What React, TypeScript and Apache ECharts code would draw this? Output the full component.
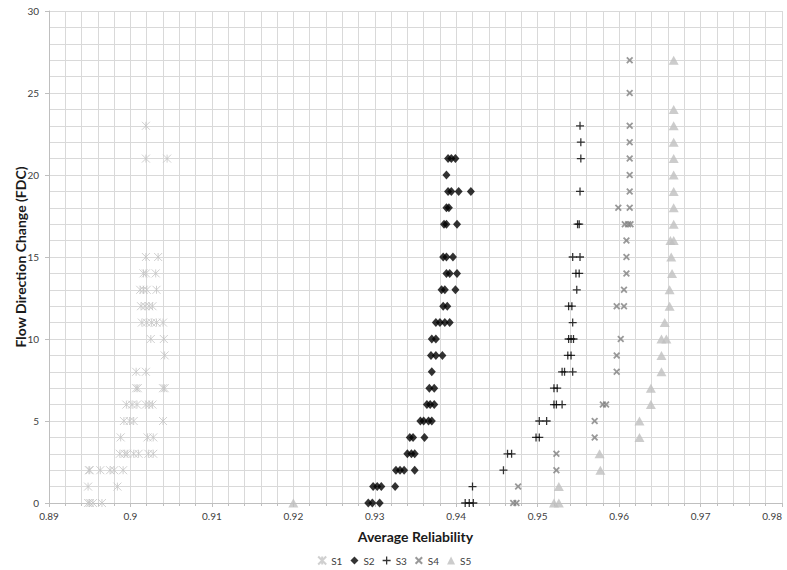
import React, { useEffect, useRef } from "react";
import * as echarts from "echarts";

type Row = [number, number[]]; // [FDC, reliabilities]

const seriesNames = ["S1", "S2", "S3", "S4", "S5"];

const s1: Row[] = [
  [23, [0.9019]],
  [21, [0.9019, 0.9045]],
  [15, [0.9019, 0.9034]],
  [14, [0.9016, 0.9019, 0.9031]],
  [13, [0.9012, 0.9016, 0.902, 0.9032]],
  [12, [0.9013, 0.9018, 0.9023, 0.9027]],
  [11, [0.9014, 0.902, 0.9026, 0.9032, 0.904]],
  [10, [0.9025, 0.9041]],
  [9, [0.9042]],
  [8, [0.9007, 0.9019]],
  [7, [0.9007, 0.9009, 0.904, 0.9042]],
  [6, [0.8995, 0.9002, 0.9008, 0.9019, 0.9023, 0.9027]],
  [5, [0.8992, 0.8999, 0.9004, 0.904]],
  [4, [0.8988, 0.9021, 0.9028]],
  [3, [0.8987, 0.8993, 0.8996, 0.9004, 0.901, 0.9022, 0.9028]],
  [2, [0.8949, 0.895, 0.8963, 0.8975, 0.898, 0.8991]],
  [1, [0.8948, 0.8984]],
  [0, [0.8948, 0.895, 0.8954, 0.8965]],
];

const s2: Row[] = [
  [21, [0.939, 0.9394, 0.9399]],
  [20, [0.9388]],
  [19, [0.939, 0.9394, 0.9403, 0.9418]],
  [18, [0.9388, 0.9391]],
  [17, [0.9385, 0.9388, 0.9401]],
  [15, [0.9384, 0.9388, 0.9396]],
  [14, [0.9388, 0.9392, 0.9401]],
  [13, [0.9382, 0.9386, 0.9399]],
  [12, [0.9384, 0.9389]],
  [11, [0.9375, 0.938, 0.9386, 0.9392]],
  [10, [0.937, 0.9375]],
  [9, [0.9369, 0.9375, 0.9383]],
  [8, [0.937]],
  [7, [0.9367, 0.9373]],
  [6, [0.9364, 0.9368, 0.9373]],
  [5, [0.9356, 0.936, 0.9366, 0.937]],
  [4, [0.9343, 0.9347, 0.9361]],
  [3, [0.934, 0.9345, 0.9349]],
  [2, [0.9326, 0.9331, 0.9336, 0.9349]],
  [1, [0.9298, 0.9303, 0.9308, 0.9325]],
  [0, [0.9292, 0.9297, 0.9306]],
];

const s3: Row[] = [
  [23, [0.9552]],
  [22, [0.9553]],
  [21, [0.9553]],
  [19, [0.9552]],
  [17, [0.9549, 0.9551]],
  [15, [0.9543, 0.9552]],
  [14, [0.9547, 0.9551]],
  [13, [0.9548]],
  [12, [0.9538, 0.9542]],
  [11, [0.9543]],
  [10, [0.9538, 0.9541, 0.9544]],
  [9, [0.9537, 0.9541]],
  [8, [0.953, 0.9533, 0.9543]],
  [7, [0.952, 0.9524]],
  [6, [0.952, 0.9523, 0.953]],
  [5, [0.9502, 0.9511]],
  [4, [0.9498, 0.9502]],
  [3, [0.9463, 0.9468]],
  [2, [0.9458]],
  [1, [0.942]],
  [0, [0.9411, 0.9416, 0.9421]],
];

const s4: Row[] = [
  [27, [0.9613]],
  [25, [0.9613]],
  [23, [0.9613]],
  [22, [0.9613]],
  [21, [0.9613]],
  [20, [0.9613]],
  [19, [0.9613]],
  [18, [0.9599, 0.9613]],
  [17, [0.9607, 0.9611, 0.9614]],
  [16, [0.9609]],
  [15, [0.9609]],
  [14, [0.9609]],
  [13, [0.9606]],
  [12, [0.9597, 0.9606]],
  [10, [0.9602]],
  [9, [0.9597]],
  [8, [0.9597]],
  [6, [0.958, 0.9584]],
  [5, [0.957]],
  [4, [0.957]],
  [3, [0.9523]],
  [2, [0.9523]],
  [1, [0.9476]],
  [0, [0.947, 0.9474]],
];

const s5: Row[] = [
  [27, [0.9667]],
  [24, [0.9667]],
  [23, [0.9667]],
  [22, [0.9667]],
  [21, [0.9667]],
  [20, [0.9667]],
  [19, [0.9667]],
  [18, [0.9667]],
  [17, [0.9667]],
  [16, [0.9663, 0.9667]],
  [15, [0.9664]],
  [14, [0.9665]],
  [13, [0.9662]],
  [12, [0.9662]],
  [11, [0.9656]],
  [10, [0.9652, 0.9658]],
  [9, [0.9652]],
  [8, [0.9652]],
  [7, [0.9639]],
  [6, [0.9639]],
  [5, [0.9625]],
  [4, [0.9625]],
  [3, [0.9576]],
  [2, [0.9577]],
  [1, [0.9526]],
  [0, [0.92, 0.952, 0.9526]],
];

const xTicks = { min: 0.89, max: 0.98, interval: 0.01 };
const yTicks = { min: 0, max: 30, interval: 5 };

const flatten = (rows: Row[]) =>
  rows.flatMap(([y, xs]) => xs.map((x) => [x, y]));

const FONT = "Lato, 'Open Sans', sans-serif";

const asteriskPath = "path://M0,0 L10,10 M10,0 L0,10 M5,0 L5,10";
const plusPath = "path://M4.2,0 H5.8 V4.2 H10 V5.8 H5.8 V10 H4.2 V5.8 H0 V4.2 H4.2 Z";
const xPath =
  "path://M0,1.8 L1.8,0 L5,3.2 L8.2,0 L10,1.8 L6.8,5 L10,8.2 L8.2,10 L5,6.8 L1.8,10 L0,8.2 L3.2,5 Z";

export default function App() {
  const ref = useRef<HTMLDivElement>(null);
  useEffect(() => {
    if (!ref.current) return;
    const chart = echarts.init(ref.current, null, { renderer: "svg" });
    const gridColor = "#d9d9d9";
    const option: any = {
      animation: false,
      backgroundColor: "#ffffff",
      grid: { left: 49, right: 5, top: 11, bottom: 67, outerBoundsMode: "none", containLabel: false },
      legend: {
        top: 552,
        left: "center",
        itemWidth: 8,
        itemHeight: 8,
        itemGap: 8,
        padding: 2,
        textStyle: { fontFamily: FONT, fontSize: 10, color: "#404040" },
        data: seriesNames,
      },
      xAxis: {
        type: "value",
        min: xTicks.min,
        max: xTicks.max,
        interval: xTicks.interval,
        name: "Average Reliability",
        nameLocation: "middle",
        nameGap: 26,
        nameMoveOverlap: false,
        nameTextStyle: { fontFamily: FONT, fontSize: 14, fontWeight: "bold", color: "#1a1a1a" },
        axisLine: { show: true, lineStyle: { color: "#bfbfbf" } },
        axisTick: { show: true, length: 4, lineStyle: { color: "#bfbfbf" } },
        minorTick: { show: true, splitNumber: 5, length: 3, lineStyle: { color: "#bfbfbf" } },
        axisLabel: {
          fontFamily: FONT,
          fontSize: 10,
          color: "#404040",
          margin: 8,
          alignMaxLabel: "right",
          formatter: (v: number) => String(+v.toFixed(2)),
        },
        splitLine: { show: true, lineStyle: { color: gridColor, width: 1 } },
        minorSplitLine: { show: true, lineStyle: { color: gridColor, width: 1 } },
      },
      yAxis: {
        type: "value",
        min: yTicks.min,
        max: yTicks.max,
        interval: yTicks.interval,
        name: "Flow Direction Change (FDC)",
        nameLocation: "middle",
        nameGap: 22,
        nameMoveOverlap: false,
        nameTextStyle: { fontFamily: FONT, fontSize: 14, fontWeight: "bold", color: "#1a1a1a" },
        axisLine: { show: true, lineStyle: { color: "#bfbfbf" } },
        axisTick: { show: true, length: 4, lineStyle: { color: "#bfbfbf" } },
        axisLabel: { fontFamily: FONT, fontSize: 10, color: "#404040", margin: 10 },
        splitLine: { show: true, lineStyle: { color: gridColor, width: 1 } },
        minorTick: { show: false, splitNumber: 5 },
        minorSplitLine: { show: true, lineStyle: { color: gridColor, width: 1 } },
      },
      series: [
        {
          name: "S1",
          type: "scatter",
          data: flatten(s1),
          symbol: asteriskPath,
          symbolSize: 8,
          itemStyle: { color: "none", borderColor: "#c4c4c4", borderWidth: 1 },
        },
        {
          name: "S2",
          type: "scatter",
          data: flatten(s2),
          symbol: "diamond",
          symbolSize: [8, 9],
          itemStyle: { color: "#000000" },
        },
        {
          name: "S3",
          type: "scatter",
          data: flatten(s3),
          symbol: plusPath,
          symbolSize: 8,
          itemStyle: { color: "#000000" },
        },
        {
          name: "S4",
          type: "scatter",
          data: flatten(s4),
          symbol: xPath,
          symbolSize: 7,
          itemStyle: { color: "#808080" },
        },
        {
          name: "S5",
          type: "scatter",
          data: flatten(s5),
          symbol: "triangle",
          symbolSize: [10, 9],
          itemStyle: { color: "#bfbfbf" },
        },
      ],
    };
    chart.setOption(option);
    return () => chart.dispose();
  }, []);
  return (
    <div
      ref={ref}
      style={{ position: "fixed", left: 0, top: 0, width: 787, height: 570 }}
    />
  );
}
